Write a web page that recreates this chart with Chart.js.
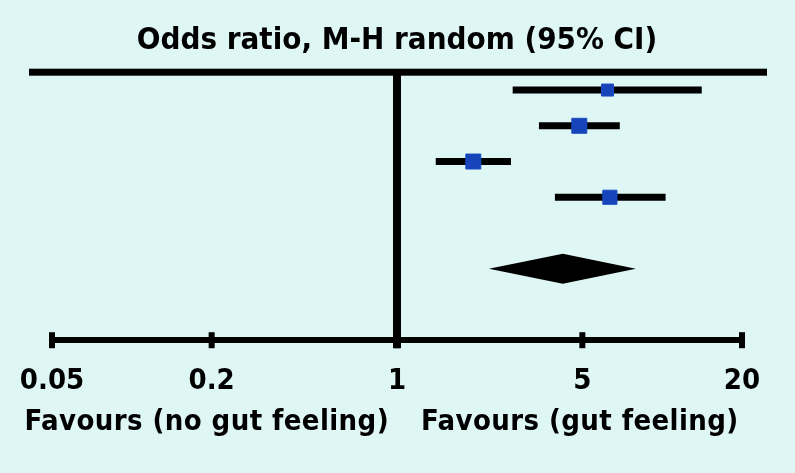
<!DOCTYPE html>
<html>
<head>
<meta charset="utf-8">
<script src="https://cdn.jsdelivr.net/npm/chart.js@4.4.0/dist/chart.umd.min.js"></script>
<style>
  html, body { margin: 0; padding: 0; background: #dff7f4; }
  #wrap { width: 795px; height: 473px; }
</style>
</head>
<body>
<div id="wrap"><canvas id="forestChart"></canvas></div>
<script>
// study rows (top to bottom), odds ratios with 95% CI
const studyRows = [1, 2, 3, 4];
const oddsRatio = [6.22, 4.87, 1.94, 6.35];
const ciLower = [2.73, 3.43, 1.40, 3.94];
const ciUpper = [14.1, 6.92, 2.69, 10.3];

// pooled estimate (diamond)
const pooledRow = 6;
const pooledOR = 4.22;
const pooledLower = 2.22;
const pooledUpper = 7.96;

const tickValues = [0.05, 0.2, 1, 5, 20];
const tickLabels = ['0.05', '0.2', '1', '5', '20'];
const leftLabel = 'Favours (no gut feeling)';
const rightLabel = 'Favours (gut feeling)';

const FONT = "'DejaVu Sans Condensed', 'DejaVu Sans', sans-serif";

const ciDatasets = studyRows.map((row, i) => ({
    type: 'scatter',
    data: [{ x: ciLower[i], y: row }, { x: ciUpper[i], y: row }],
    showLine: true,
    borderColor: '#000',
    borderWidth: 7,
    borderCapStyle: 'butt',
    pointRadius: 0,
    order: 1
}));

const squares = {
    type: 'scatter',
    data: studyRows.map((row, i) => ({ x: oddsRatio[i], y: row })),
    pointStyle: 'rect',
    pointRadius: [8.5, 10.6, 10.6, 10],
    backgroundColor: '#1744b8',
    borderColor: '#1a4cc4',
    borderWidth: 1,
    order: 0
};

// frame: top rule, line of no effect, ticks, diamond, favours labels
const forestExtras = {
    id: 'forestExtras',
    afterDatasetsDraw(chart) {
        const { ctx, chartArea, scales: { x, y } } = chart;
        ctx.save();
        ctx.fillStyle = '#000';

        // top rule
        ctx.fillRect(chartArea.left - 23, chartArea.top - 3.5, chartArea.width + 48, 7);

        // line of no effect
        const x1 = x.getPixelForValue(1);
        ctx.fillRect(x1 - 4, chartArea.top, 8, chartArea.bottom - chartArea.top + 8);

        // ticks across the axis
        tickValues.forEach(v => {
            const px = x.getPixelForValue(v);
            ctx.fillRect(px - 3, chartArea.bottom - 8, 6, 16);
        });

        // pooled diamond
        const yc = y.getPixelForValue(pooledRow);
        ctx.beginPath();
        ctx.moveTo(x.getPixelForValue(pooledLower), yc);
        ctx.lineTo(x.getPixelForValue(pooledOR), yc - 15);
        ctx.lineTo(x.getPixelForValue(pooledUpper), yc);
        ctx.lineTo(x.getPixelForValue(pooledOR), yc + 15);
        ctx.closePath();
        ctx.fill();

        // favours labels
        ctx.font = 'bold 29px ' + FONT;
        ctx.letterSpacing = '0.4px';
        ctx.textBaseline = 'alphabetic';
        ctx.textAlign = 'right';
        ctx.fillText(leftLabel, x1 - 8, 430);
        ctx.textAlign = 'left';
        ctx.fillText(rightLabel, x1 + 24, 430);
        ctx.restore();
    }
};

const ctx = document.getElementById('forestChart').getContext('2d');
new Chart(ctx, {
    type: 'scatter',
    data: { datasets: [squares, ...ciDatasets] },
    options: {
        responsive: true,
        maintainAspectRatio: false,
        animation: false,
        layout: { padding: { left: 52, right: 53, top: 0, bottom: 50 } },
        scales: {
            x: {
                type: 'logarithmic',
                min: 0.05,
                max: 20,
                afterBuildTicks: scale => {
                    scale.ticks = tickValues.map(v => ({ value: v }));
                },
                afterFit: scale => {
                    scale.paddingLeft = 0;
                    scale.paddingRight = 0;
                },
                ticks: {
                    autoSkip: false,
                    maxRotation: 0,
                    padding: 24,
                    color: '#000',
                    font: { family: FONT, size: 29, weight: 'bold' },
                    callback: (value) => {
                        const i = tickValues.indexOf(value);
                        return i >= 0 ? tickLabels[i] : '';
                    }
                },
                grid: { display: false, drawTicks: false },
                border: { display: true, color: '#000', width: 6 }
            },
            y: {
                display: false,
                reverse: true,
                min: 0.5,
                max: 8
            }
        },
        plugins: {
            legend: { display: false },
            tooltip: { enabled: false },
            title: {
                display: true,
                text: 'Odds ratio, M-H random (95% CI)',
                color: '#000',
                font: { family: FONT, size: 31, weight: 'bold' },
                padding: { top: 22, bottom: 13 }
            }
        }
    },
    plugins: [forestExtras]
});
</script>
</body>
</html>
